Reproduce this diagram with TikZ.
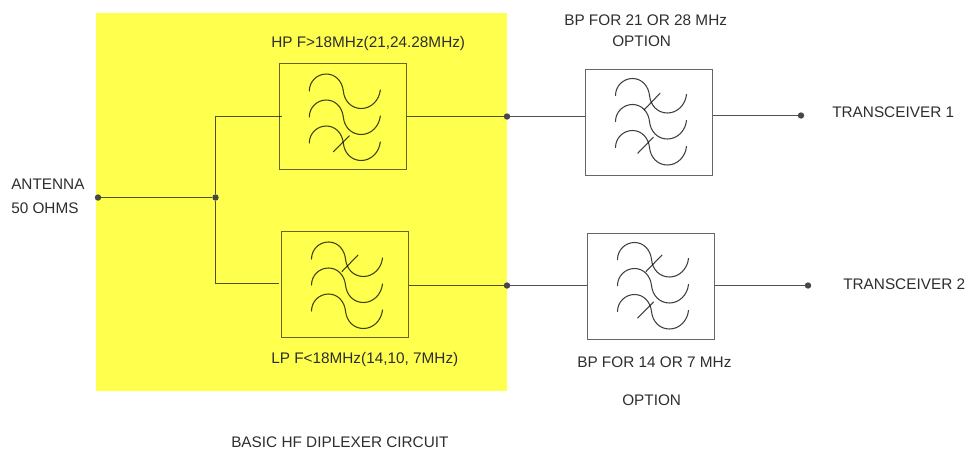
\documentclass[tikz,border=0pt]{standalone}
\usepackage{fontspec}
\setmainfont{Liberation Sans}
\definecolor{diplexyellow}{HTML}{FFFF4D}
\tikzset{
  filterbox/.style={draw=black,draw opacity=.6,line width=1pt,minimum width=95.25pt,minimum height=79.5pt,inner sep=0pt,anchor=north west},
  wire/.style={draw=black,draw opacity=.68,line width=.95pt},
  wavecurve/.style={draw=black,draw opacity=.75,line width=.8pt,line cap=round},
  junction/.style={circle,fill=black!72,inner sep=0pt,minimum size=4.8pt},
  lbl/.style={inner sep=0pt,anchor=west,font=\fontsize{11.5pt}{13pt}\selectfont,text=black!82}
}
\newcommand{\onewave}[2]{%
  \draw[wavecurve] (#1,#2) .. controls (#1,#2-9.4) and (#1+7.6,#2-17) .. (#1+17,#2-17)
    .. controls (#1+26.4,#2-17) and (#1+33,#2-9.4) .. (#1+34,#2)
    .. controls (#1+35,#2+10) and (#1+42,#2+17.5) .. (#1+52,#2+17.5)
    .. controls (#1+62,#2+17.5) and (#1+70,#2+9) .. (#1+71,#2-1);}
\newcommand{\wavestack}[2]{%
  \onewave{#1}{#2}\onewave{#1}{#2+26}\onewave{#1}{#2+52}}
\begin{document}
\begin{tikzpicture}[x=.75pt,y=-.75pt]
\useasboundingbox (0,0) rectangle (966,451);
\fill[diplexyellow] (96,13) rectangle (507,391);
% filter boxes
\node[filterbox] (hp) at (279,63) {};
\node[filterbox] (lp) at (281,231) {};
\node[filterbox] (bpa) at (585,69) {};
\node[filterbox] (bpb) at (587,232.5) {};
% wave symbols
\wavestack{309.3}{91}
\draw[wavecurve] (333.3,151.7) -- (349.3,135.7);
\wavestack{311.5}{259}
\draw[wavecurve] (342,271.5) -- (358,255);
\wavestack{615.5}{95.5}
\draw[wavecurve] (644,110) -- (660,93.3);
\draw[wavecurve] (637.7,153.3) -- (653.3,137.3);
\wavestack{617.5}{259.5}
\draw[wavecurve] (646,271.5) -- (662,255);
\draw[wavecurve] (637.5,318) -- (653.5,302);
% junctions
\node[junction] (ant) at (98,197.5) {};
\node[junction] (split) at (215.5,197.5) {};
\node[junction] (hpout) at (507,116.5) {};
\node[junction] (lpout) at (507,285.5) {};
\node[junction] (tr1) at (801,115.5) {};
\node[junction] (tr2) at (808,285.5) {};
\coordinate (hpin) at (281.5,116.5);
\coordinate (lpin) at (279,283.5);
% connectors
\draw[wire] (ant) -- (split);
\draw[wire] (split) |- (hpin);
\draw[wire] (split) |- (lpin);
\draw[wire] (hp.east |- hpout) -- (hpout);
\draw[wire] (lp.east |- lpout) -- (lpout);
\draw[wire] (hpout) -- (bpa.west |- hpout);
\draw[wire] (lpout) -- (bpb.west |- lpout);
\draw[wire] (bpa.east |- tr1) -- (tr1);
\draw[wire] (bpb.east |- tr2) -- (tr2);
% labels
\node[lbl] (t1) at (11,184) {ANTENNA};
\node[lbl] (t2) at (11,208) {50 OHMS};
\node[lbl] (t3) at (271,44) {HP F>18MHz(21,24.28MHz)};
\node[lbl] (t4) at (564,20) {BP FOR 21 OR 28 MHz};
\node[lbl] (t5) at (612,41) {OPTION};
\node[lbl] (t6) at (832,112) {TRANSCEIVER 1};
\node[lbl] (t7) at (843,284) {TRANSCEIVER 2};
\node[lbl] (t8) at (271,360) {LP F<18MHz(14,10, 7MHz)};
\node[lbl] (t9) at (577,362) {BP FOR 14 OR 7 MHz};
\node[lbl] (t10) at (622,400) {OPTION};
\node[lbl] (t11) at (231,442) {BASIC HF DIPLEXER CIRCUIT};
\end{tikzpicture}
\end{document}
